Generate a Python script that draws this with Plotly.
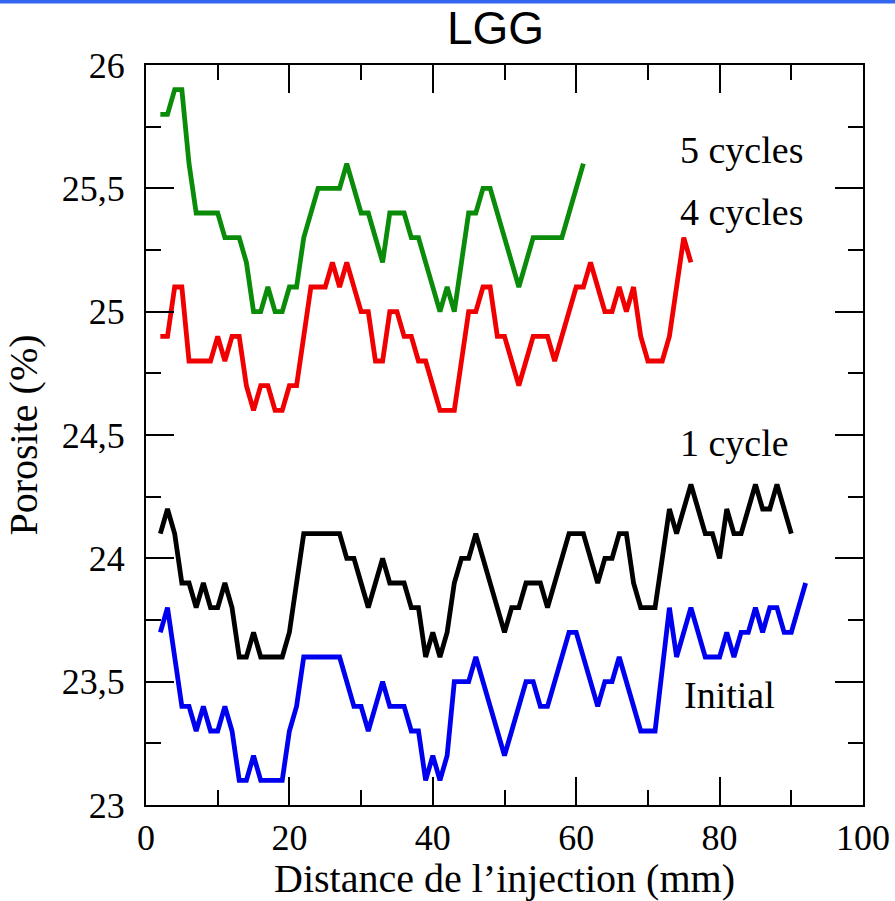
import plotly.graph_objects as go

# ---- data ----
x_5cycles = list(range(2, 62))
y_5cycles = [25.8, 25.8, 25.9, 25.9, 25.6, 25.4, 25.4, 25.4, 25.4, 25.3,
             25.3, 25.3, 25.2, 25.0, 25.0, 25.1, 25.0, 25.0, 25.1, 25.1,
             25.3, 25.4, 25.5, 25.5, 25.5, 25.5, 25.6, 25.5, 25.4, 25.4,
             25.3, 25.2, 25.4, 25.4, 25.4, 25.3, 25.3, 25.2, 25.1, 25.0,
             25.1, 25.0, 25.2, 25.4, 25.4, 25.5, 25.5, 25.4, 25.3, 25.2,
             25.1, 25.2, 25.3, 25.3, 25.3, 25.3, 25.3, 25.4, 25.5, 25.6]

x_4cycles = list(range(2, 77))
y_4cycles = [24.9, 24.9, 25.1, 25.1, 24.8, 24.8, 24.8, 24.8, 24.9, 24.8,
             24.9, 24.9, 24.7, 24.6, 24.7, 24.7, 24.6, 24.6, 24.7, 24.7,
             24.9, 25.1, 25.1, 25.1, 25.2, 25.1, 25.2, 25.1, 25.0, 25.0,
             24.8, 24.8, 25.0, 25.0, 24.9, 24.9, 24.8, 24.8, 24.7, 24.6,
             24.6, 24.6, 24.8, 25.0, 25.0, 25.1, 25.1, 24.9, 24.9, 24.8,
             24.7, 24.8, 24.9, 24.9, 24.9, 24.8, 24.9, 25.0, 25.1, 25.1,
             25.2, 25.1, 25.0, 25.0, 25.1, 25.0, 25.1, 24.9, 24.8, 24.8,
             24.8, 24.9, 25.1, 25.3, 25.2]

x_1cycle = list(range(2, 91))
y_1cycle = [24.1, 24.2, 24.1, 23.9, 23.9, 23.8, 23.9, 23.8, 23.8, 23.9,
            23.8, 23.6, 23.6, 23.7, 23.6, 23.6, 23.6, 23.6, 23.7, 23.9,
            24.1, 24.1, 24.1, 24.1, 24.1, 24.1, 24.0, 24.0, 23.9, 23.8,
            23.9, 24.0, 23.9, 23.9, 23.9, 23.8, 23.8, 23.6, 23.7, 23.6,
            23.7, 23.9, 24.0, 24.0, 24.1, 24.0, 23.9, 23.8, 23.7, 23.8,
            23.8, 23.9, 23.9, 23.9, 23.8, 23.9, 24.0, 24.1, 24.1, 24.1,
            24.0, 23.9, 24.0, 24.0, 24.1, 24.1, 23.9, 23.8, 23.8, 23.8,
            24.0, 24.2, 24.1, 24.2, 24.3, 24.2, 24.1, 24.1, 24.0, 24.2,
            24.1, 24.1, 24.2, 24.3, 24.2, 24.2, 24.3, 24.2, 24.1]

x_initial = list(range(2, 93))
y_initial = [23.7, 23.8, 23.6, 23.4, 23.4, 23.3, 23.4, 23.3, 23.3, 23.4,
             23.3, 23.1, 23.1, 23.2, 23.1, 23.1, 23.1, 23.1, 23.3, 23.4,
             23.6, 23.6, 23.6, 23.6, 23.6, 23.6, 23.5, 23.4, 23.4, 23.3,
             23.4, 23.5, 23.4, 23.4, 23.4, 23.3, 23.3, 23.1, 23.2, 23.1,
             23.2, 23.5, 23.5, 23.5, 23.6, 23.5, 23.4, 23.3, 23.2, 23.3,
             23.4, 23.5, 23.5, 23.4, 23.4, 23.5, 23.6, 23.7, 23.7, 23.6,
             23.5, 23.4, 23.5, 23.5, 23.6, 23.5, 23.4, 23.3, 23.3, 23.3,
             23.55, 23.8, 23.6, 23.7, 23.8, 23.7, 23.6, 23.6, 23.6, 23.7,
             23.6, 23.7, 23.7, 23.8, 23.7, 23.8, 23.8, 23.7, 23.7, 23.8,
             23.9]

x_tickvals = [0, 20, 40, 60, 80, 100]
x_ticktext = ["0", "20", "40", "60", "80", "100"]
y_tickvals = [23, 23.5, 24, 24.5, 25, 25.5, 26]
y_ticktext = ["23", "23,5", "24", "24,5", "25", "25,5", "26"]

labels = ["5 cycles", "4 cycles", "1 cycle", "Initial"]
label_x = [74.2, 74.2, 74.2, 74.7]
label_y = [25.655, 25.404, 24.468, 23.446]

# ---- figure ----
SERIF = "Liberation Serif"
fig = go.Figure()
series = [
    (x_5cycles, y_5cycles, "#0a8c0a", "5 cycles"),
    (x_4cycles, y_4cycles, "#f00000", "4 cycles"),
    (x_1cycle, y_1cycle, "#000000", "1 cycle"),
    (x_initial, y_initial, "#0000f0", "Initial"),
]
for xs, ys, col, name in series:
    fig.add_trace(go.Scatter(x=xs, y=ys, mode="lines", name=name,
                             line=dict(color=col, width=4.8),
                             showlegend=False))

for t, lx, ly in zip(labels, label_x, label_y):
    fig.add_annotation(x=lx, y=ly, text=t, showarrow=False,
                       xanchor="left", yanchor="middle",
                       font=dict(family=SERIF, size=38, color="black"))

# title
fig.add_annotation(xref="paper", yref="paper", x=0.488, y=1.05,
                   text="LGG", showarrow=False, xanchor="center",
                   yanchor="middle",
                   font=dict(family="Liberation Sans", size=46, color="black"))

# blue band at top edge
fig.add_shape(type="rect", xref="paper", yref="paper",
              x0=-146 / 717, x1=749 / 717, y0=1 + 61.5 / 740, y1=1 + 65.5 / 740,
              fillcolor="#3366ee", line=dict(width=0), layer="above")

axis_common = dict(showline=True, linewidth=2, linecolor="black",
                   mirror="ticks", ticks="inside", tickwidth=2,
                   tickcolor="black", showgrid=False, zeroline=False,
                   tickfont=dict(family=SERIF, size=36, color="black"))

fig.update_xaxes(range=[0, 100], tickmode="array", tickvals=x_tickvals,
                 ticktext=x_ticktext, ticklen=28,
                 minor=dict(dtick=10, tick0=0, ticks="inside", ticklen=15,
                            tickwidth=2, tickcolor="black"),
                 title=dict(text="Distance de l\u2019injection (mm)",
                            font=dict(family=SERIF, size=40, color="black"),
                            standoff=4),
                 **axis_common)
fig.update_yaxes(range=[23, 26], tickmode="array", tickvals=y_tickvals,
                 ticktext=y_ticktext, ticklen=28, ticklabelstandoff=12,
                 minor=dict(dtick=0.25, tick0=23, ticks="inside", ticklen=15,
                            tickwidth=2, tickcolor="black"),
                 title=dict(text="Porosite (%)",
                            font=dict(family=SERIF, size=40, color="black"),
                            standoff=12),
                 **axis_common)

fig.update_layout(width=895, height=901,
                  margin=dict(l=146, r=32, t=65, b=96, autoexpand=False),
                  plot_bgcolor="white", paper_bgcolor="white")

fig.write_html("out.html", config={"displayModeBar": False},
               post_script="document.body.style.margin='0';"
                           "document.body.style.overflow='hidden';")
